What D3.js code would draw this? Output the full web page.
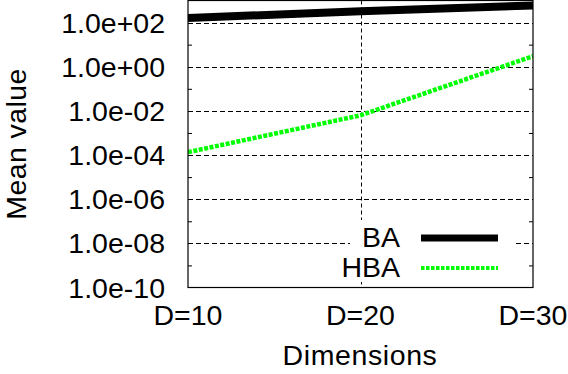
<!DOCTYPE html>
<html><head><meta charset="utf-8">
<script src="https://cdn.jsdelivr.net/npm/d3@7"></script>
<style>body{margin:0;background:#fff}svg{display:block}text{font-family:"Liberation Sans",Arial,Helvetica,sans-serif;}</style>
</head><body>
<script>
const dimensions = [10, 20, 30];
const xTickLabels = ["D=10", "D=20", "D=30"];
const baValues = [160, 330, 590];
const hbaValues = [1.35e-4, 6.3e-3, 3.0];
const yTickValues = [1e2, 1e0, 1e-2, 1e-4, 1e-6, 1e-8, 1e-10];
const yMinorTickValues = [1e1, 1e-1, 1e-3, 1e-5, 1e-7, 1e-9];
const seriesNames = ["BA", "HBA"];

const W = 568, H = 374;
const L = 188, R = 533, T = 0.5, B = 287.5;
const FS = 28.5;
const svg = d3.select("body").append("svg").attr("width", W).attr("height", H);

const x = d3.scaleLinear().domain([10, 30]).range([L, R]);
const y = d3.scaleLog().domain([1e-10, 1e3]).range([B, T]);

function fmt(v) {
  const e = Math.round(Math.log10(v));
  const s = e < 0 ? "-" : "+";
  const a = Math.abs(e);
  return "1.0e" + s + (a < 10 ? "0" + a : "" + a);
}

// grid
const grid = svg.append("g");
grid.selectAll("line.hy").data(yTickValues.filter(v => v > 1e-10)).join("line")
  .attr("x1", L).attr("x2", R).attr("y1", d => Math.round(y(d)) + 0.5).attr("y2", d => Math.round(y(d)) + 0.5)
  .attr("stroke", "#000").attr("stroke-width", 1).attr("stroke-dasharray", "5,3");
grid.selectAll("line.vx").data([20]).join("line")
  .attr("x1", d => Math.round(x(d)) + 0.5).attr("x2", d => Math.round(x(d)) + 0.5).attr("y1", T).attr("y2", B)
  .attr("stroke", "#000").attr("stroke-width", 1).attr("stroke-dasharray", "4,3");

// legend background (covers grid)
svg.append("rect").attr("x", 350).attr("y", 220).attr("width", 165).attr("height", 62).attr("fill", "#fff");

// axes ticks (inward)
const yLeft = d3.axisLeft(y).tickValues(yMinorTickValues).tickSize(-4).tickFormat("");
const yRight = d3.axisRight(y).tickValues(yMinorTickValues).tickSize(-4).tickFormat("");
svg.append("g").attr("transform", `translate(${L},0)`).call(yLeft).call(g => g.select(".domain").remove());
svg.append("g").attr("transform", `translate(${R},0)`).call(yRight).call(g => g.select(".domain").remove());

// y tick labels
svg.append("g").selectAll("text").data(yTickValues).join("text")
  .attr("x", 165).attr("y", d => y(d) + 10).attr("text-anchor", "end")
  .attr("font-size", FS).attr("fill", "#000").text(fmt);

// x tick labels
svg.append("g").selectAll("text").data(dimensions).join("text")
  .attr("x", d => x(d)).attr("y", 325).attr("text-anchor", "middle")
  .attr("font-size", FS).attr("fill", "#000").text((d, i) => xTickLabels[i]);

// axis titles
svg.append("text").attr("x", 360).attr("y", 365).attr("text-anchor", "middle")
  .attr("font-size", FS).attr("letter-spacing", 0.6).text("Dimensions");
svg.append("text").attr("transform", "translate(26,144) rotate(-90)").attr("text-anchor", "middle")
  .attr("font-size", FS).attr("letter-spacing", 0.4).text("Mean value");

// lines
const line = d3.line().x((d, i) => x(dimensions[i])).y(d => y(d));
svg.append("clipPath").attr("id", "c").append("rect").attr("x", L).attr("y", T).attr("width", R - L).attr("height", B - T);
svg.append("path").datum(baValues).attr("d", line).attr("fill", "none")
  .attr("stroke", "#000").attr("stroke-width", 8).attr("clip-path", "url(#c)");
svg.append("path").datum(hbaValues).attr("d", line).attr("fill", "none")
  .attr("stroke", "#00ff00").attr("stroke-width", 4.5).attr("stroke-dasharray", "4,1.5").attr("clip-path", "url(#c)");

// frame
svg.append("rect").attr("x", L).attr("y", T).attr("width", R - L).attr("height", B - T)
  .attr("fill", "none").attr("stroke", "#000").attr("stroke-width", 1.2);

// legend
const lg = svg.append("g");
lg.selectAll("text").data(seriesNames).join("text")
  .attr("x", 400).attr("y", (d, i) => 247 + i * 30).attr("text-anchor", "end")
  .attr("font-size", FS).text(d => d);
lg.append("line").attr("x1", 421).attr("x2", 498).attr("y1", 238).attr("y2", 238)
  .attr("stroke", "#000").attr("stroke-width", 7);
lg.append("line").attr("x1", 421).attr("x2", 498).attr("y1", 268).attr("y2", 268)
  .attr("stroke", "#00ff00").attr("stroke-width", 4).attr("stroke-dasharray", "3.5,1.5");
</script>
</body></html>
